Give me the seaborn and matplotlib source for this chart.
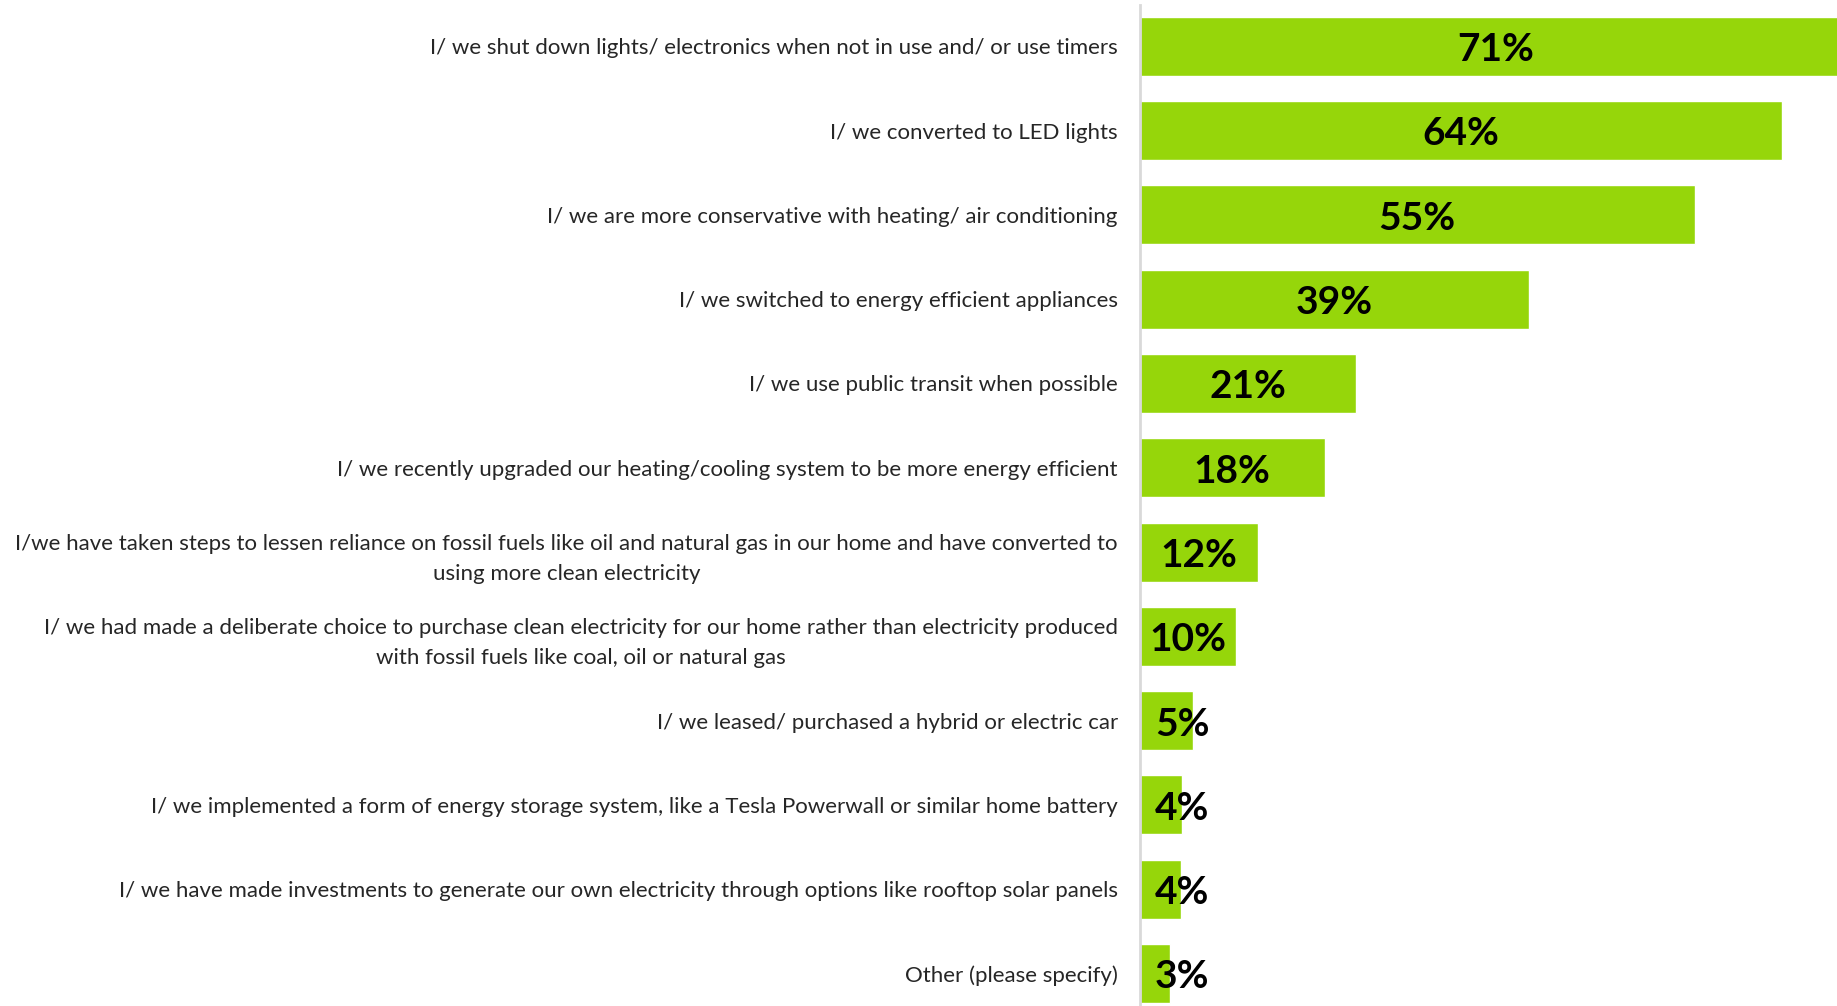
import matplotlib
matplotlib.use('Agg')
import matplotlib.pyplot as plt
import seaborn as sns
import pandas as pd

# survey answers, top to bottom
actions = [
    'I/ we shut down lights/ electronics when not in use and/ or use timers',
    'I/ we converted to LED lights',
    'I/ we are more conservative with heating/ air conditioning',
    'I/ we switched to energy efficient appliances',
    'I/ we use public transit when possible',
    'I/ we recently upgraded our heating/cooling system to be more energy efficient',
    'I/we have taken steps to lessen reliance on fossil fuels like oil and natural gas in our home and have converted to\nusing more clean electricity',
    'I/ we had made a deliberate choice to purchase clean electricity for our home rather than electricity produced\nwith fossil fuels like coal, oil or natural gas',
    'I/ we leased/ purchased a hybrid or electric car',
    'I/ we implemented a form of energy storage system, like a Tesla Powerwall or similar home battery',
    'I/ we have made investments to generate our own electricity through options like rooftop solar panels',
    'Other (please specify)',
]
# bar lengths, labels as printed
bar_vals = [71, 64.0, 55.3, 38.8, 21.5, 18.4, 11.8, 9.6, 5.3, 4.2, 4.1, 3.0]
pct_labels = ['71%', '64%', '55%', '39%', '21%', '18%', '12%', '10%', '5%', '4%', '4%', '3%']

df = pd.DataFrame({'action': actions, 'value': bar_vals})

sns.set_style('white')
plt.rcParams['font.family'] = ['Lato', 'DejaVu Sans']

fig = plt.figure(figsize=(18.37, 10.06), dpi=100)
ax = fig.add_axes([1140 / 1837, 0.0, 1 - 1140 / 1837, 1 - 5 / 1006])

sns.barplot(data=df, y='action', x='value', orient='h', color='#96D60A',
            saturation=1, width=0.70, ax=ax)

ax.set_xlim(0, 69.5)
ax.set_ylim(11.385, -0.49)
ax.set_xlabel('')
ax.set_ylabel('')
ax.set_xticks([])
for s in ['top', 'right', 'bottom']:
    ax.spines[s].set_visible(False)
ax.spines['left'].set_color('#D9D9D9')
ax.spines['left'].set_linewidth(2)
ax.tick_params(axis='y', length=0, pad=16, labelsize=16)
for t in ax.get_yticklabels():
    t.set_multialignment('center')
    t.set_linespacing(1.62)

# value labels, pushed right for the short bars
for i, (v, lab) in enumerate(zip(bar_vals, pct_labels)):
    x = max(v / 2, 4.2)
    ax.text(x, i + 0.04, lab, ha='center', va='center', fontsize=28,
            fontweight='bold', color='black')

fig.savefig('out.png', dpi=100)
